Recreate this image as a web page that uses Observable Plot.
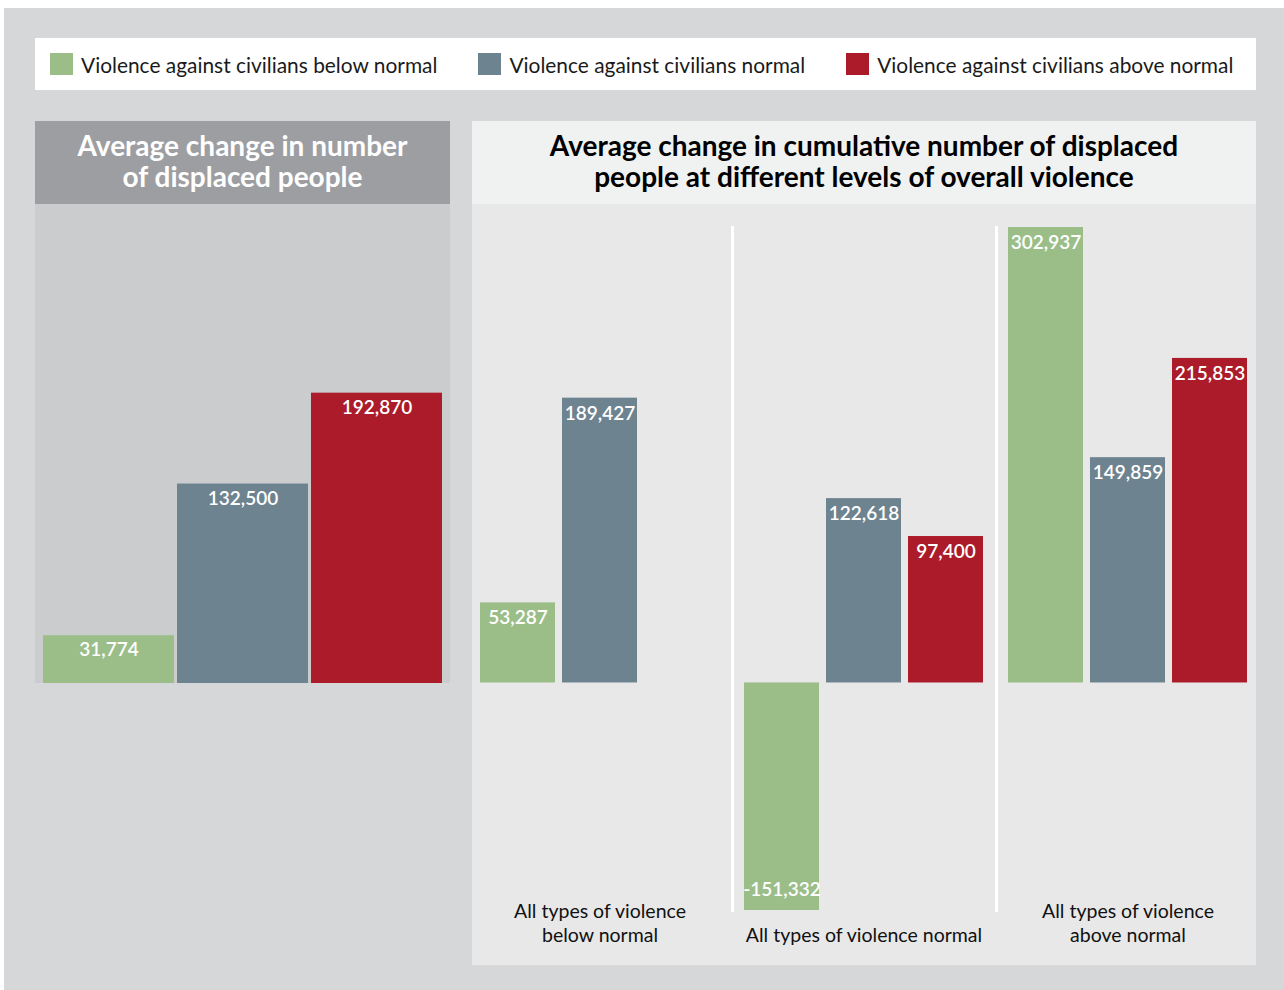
<!DOCTYPE html>
<html>
<head>
<meta charset="utf-8">
<script src="https://cdn.jsdelivr.net/npm/d3@7"></script>
<script src="https://cdn.jsdelivr.net/npm/@observablehq/plot@0.6"></script>
<style>
  html, body { margin: 0; padding: 0; background: #ffffff; }
  body { width: 1284px; height: 990px; position: relative; overflow: hidden; font-family: Lato, "Open Sans", sans-serif; }
  #outer { position: absolute; left: 4px; top: 8px; width: 1280px; height: 982px; background: #d6d7d9; }
  #legend { position: absolute; left: 35px; top: 38px; width: 1221px; height: 52px; background: #ffffff;
            display: flex; align-items: center; box-sizing: border-box; padding-left: 15px; }
  .item { display: flex; align-items: center; flex: none; white-space: nowrap; margin-right: 41px; font-size: 20.9px; color: #1a1a1a; }
  .sw { width: 23px; height: 22px; margin-right: 8px; flex: none; }
  #left { position: absolute; left: 35px; top: 121px; width: 415px; }
  #right { position: absolute; left: 472px; top: 121px; width: 784px; background: #e8e8e8; }
  .title { height: 83px; display: flex; align-items: center; justify-content: center; text-align: center;
           font-weight: 700; font-size: 28px; line-height: 31px; box-sizing: border-box; padding-bottom: 4px; }
  #left .title { background: #9d9ea2; color: #ffffff; }
  #right .title { background: #f0f1f1; color: #000000; }
  #leftPlot { background: #cbccce; height: 479px; }
  #rightPlot { height: 761px; }
  svg { display: block; }
</style>
</head>
<body>
<div id="outer"></div>
<div id="legend"></div>
<div id="left"><div class="title">Average change in number<br>of displaced people</div><div id="leftPlot"></div></div>
<div id="right"><div class="title">Average change in cumulative number of displaced<br>people at different levels of overall violence</div><div id="rightPlot"></div></div>
<script>
// ---- data ----
const categories = [
  "Violence against civilians below normal",
  "Violence against civilians normal",
  "Violence against civilians above normal"
];
const colors = ["#9bbe89", "#6e8390", "#ab1b29"];
const overallValues = [31774, 132500, 192870];

const levels = ["below", "normal", "above"];
const levelLabels = ["All types of violence\nbelow normal", "All types of violence normal", "All types of violence\nabove normal"];
const belowValues = [53287, 189427, null];
const normalValues = [-151332, 122618, 97400];
const aboveValues = [302937, 149859, 215853];

// ---- tables ----
const overall = categories.map((c, i) => ({category: c, value: overallValues[i]}));
const byLevel = [];
[belowValues, normalValues, aboveValues].forEach((vals, li) => {
  vals.forEach((v, ci) => { if (v != null) byLevel.push({level: levels[li], category: categories[ci], value: v}); });
});
const labelTable = levels.map((l, i) => ({level: l, label: levelLabels[i]}));

const allValues = overallValues.concat(belowValues, normalValues, aboveValues).filter(v => v != null);
const yMin = d3.min(allValues), yMax = d3.max(allValues);
const fmt = v => v.toLocaleString("en-US");
const FONT = "Lato, 'Open Sans', sans-serif";

// legend
const legend = document.getElementById("legend");
categories.forEach((c, i) => {
  const it = document.createElement("div");
  it.className = "item";
  it.innerHTML = `<span class="sw" style="background:${colors[i]}"></span><span>${c}</span>`;
  legend.appendChild(it);
});

const colorScale = {domain: categories, range: colors};

// left chart
const leftChart = Plot.plot({
  width: 415, height: 479,
  marginLeft: 7, marginRight: 8, marginTop: 23, marginBottom: 0,
  style: {background: "transparent", fontFamily: FONT},
  x: {domain: categories, axis: null, paddingInner: 0.026, paddingOuter: 0},
  y: {domain: [0, yMax], axis: null},
  color: colorScale,
  marks: [
    Plot.barY(overall, {x: "category", y: "value", fill: "category"}),
    Plot.text(overall, {x: "category", y: "value", text: d => fmt(d.value), fill: "white",
      fontSize: 19, fontWeight: 600, lineAnchor: "top", dy: 7})
  ]
});
document.getElementById("leftPlot").appendChild(leftChart);

// right chart (faceted)
const rightChart = Plot.plot({
  width: 784, height: 761,
  marginLeft: 7, marginRight: 8, marginTop: 23, marginBottom: 55,
  style: {background: "transparent", fontFamily: FONT, overflow: "hidden"},
  fx: {domain: levels, axis: null, paddingInner: 0.089, paddingOuter: 0},
  x: {domain: categories, axis: null, paddingInner: 0.08, paddingOuter: 0},
  y: {domain: [yMin, yMax], axis: null},
  color: colorScale,
  marks: [
    Plot.frame({anchor: "right", stroke: "white", strokeWidth: 3, dx: 12}),
    Plot.barY(byLevel, {fx: "level", x: "category", y: "value", fill: "category"}),
    Plot.text(byLevel.filter(d => d.value >= 0), {fx: "level", x: "category", y: "value", text: d => fmt(d.value),
      fill: "white", fontSize: 19, fontWeight: 600, lineAnchor: "top", dy: 8}),
    Plot.text(byLevel.filter(d => d.value < 0), {fx: "level", x: "category", y: "value", text: d => fmt(d.value),
      fill: "white", fontSize: 19, fontWeight: 600, lineAnchor: "bottom", dy: -15}),
    Plot.text(labelTable, {fx: "level", text: "label", frameAnchor: "bottom", lineAnchor: "bottom",
      dy: 31, fontSize: 19.5, fill: "#111", lineHeight: 1.23})
  ]
});
document.getElementById("rightPlot").appendChild(rightChart);
</script>
</body>
</html>
